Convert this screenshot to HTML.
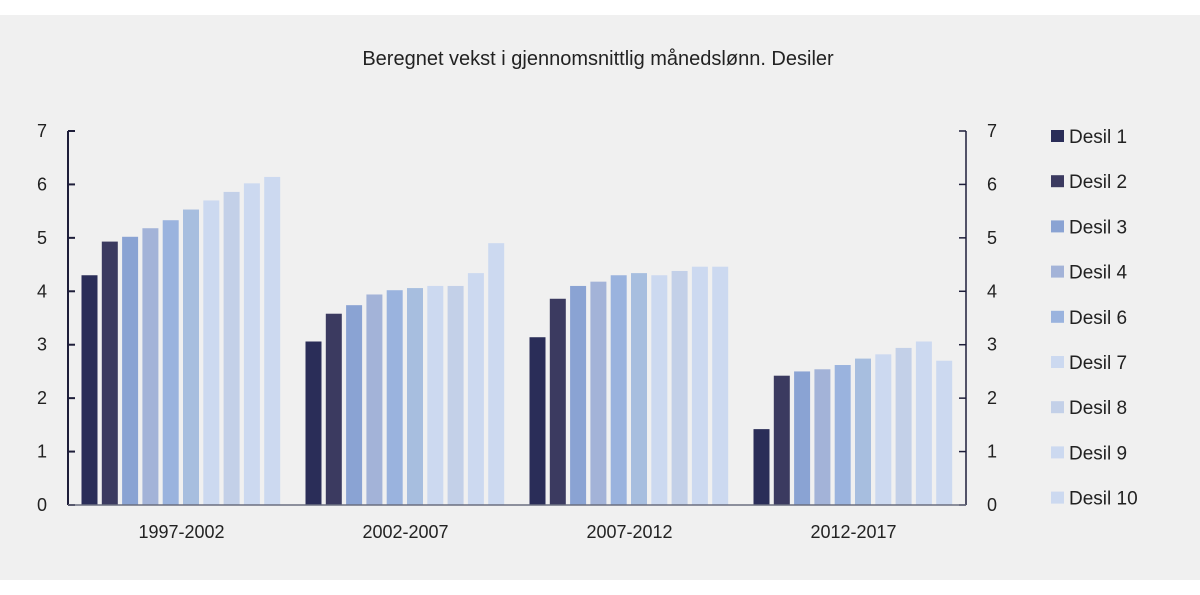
<!DOCTYPE html>
<html><head><meta charset="utf-8"><style>
body{margin:0;background:#fff;}
svg{display:block;font-family:"Liberation Sans",sans-serif;}
</style></head><body>
<svg id="c" width="1200" height="595">
<rect width="1200" height="595" fill="#ffffff"/>
<rect x="0" y="15" width="1200" height="565" fill="#f0f0f0"/>
<text x="598" y="65" text-anchor="middle" font-size="20" fill="#222">Beregnet vekst i gjennomsnittlig månedslønn. Desiler</text>
</svg>
<script>
const categories=["1997-2002","2002-2007","2007-2012","2012-2017"];
const seriesNames=["Desil 1","Desil 2","Desil 3","Desil 4","Desil 5","Desil 6","Desil 7","Desil 8","Desil 9","Desil 10"];
const g1=[4.3,4.93,5.02,5.18,5.33,5.53,5.7,5.86,6.02,6.14];
const g2=[3.06,3.58,3.74,3.94,4.02,4.06,4.1,4.1,4.34,4.9];
const g3=[3.14,3.86,4.1,4.18,4.3,4.34,4.3,4.38,4.46,4.46];
const g4=[1.42,2.42,2.5,2.54,2.62,2.74,2.82,2.94,3.06,2.7];
const yTicks=[0,1,2,3,4,5,6,7];
const legendNames=["Desil 1","Desil 2","Desil 3","Desil 4","Desil 6","Desil 7","Desil 8","Desil 9","Desil 10"];
const groups=[g1,g2,g3,g4];
const colors=["#2a2d58","#3b3a60","#8aa3d3","#a3b3d8","#9ab3de","#a7bedf","#ccd9f0","#c3d0e8","#ccd9f0","#ccd9f0"];
const legendColors=["#2a2d58","#3b3a60","#8aa3d3","#a3b3d8","#9ab3de","#ccd9f0","#c3d0e8","#ccd9f0","#ccd9f0"];
const NS="http://www.w3.org/2000/svg",svg=document.getElementById('c');
const y=v=>505-v*53.43;
const x=(g,i)=>81.5+g*224+i*20.3;
function mk(t,a,txt){const e=document.createElementNS(NS,t);for(const k in a)e.setAttribute(k,a[k]);if(txt!=null)e.textContent=txt;svg.appendChild(e);return e;}
let e=mk('line',{x1:68,y1:y(0),x2:68,y2:y(7),stroke:'#1e1e3a','stroke-width':2});


e=mk('line',{x1:966,y1:y(0),x2:966,y2:y(7),stroke:'#1e1e3a','stroke-width':1.5});


yTicks.forEach(t=>{
 e=mk('line',{x1:68,y1:y(t),x2:75,y2:y(t),stroke:'#1e1e3a','stroke-width':2});
 
 
 e=mk('line',{x1:959,y1:y(t),x2:966,y2:y(t),stroke:'#1e1e3a','stroke-width':1.5});
 
 
 e=mk('text',{x:42,y:y(t)+6,'text-anchor':'middle','font-size':18,fill:'#222'},t);
 
 
 e=mk('text',{x:992,y:y(t)+6,'text-anchor':'middle','font-size':18,fill:'#222'},t);
 
 
});
groups.forEach((vals,g)=>{
 vals.forEach((v,i)=>{
  e=mk('rect',{x:x(g,i),y:y(v),width:16,height:y(0)-y(v),fill:colors[i]});
  
  
 });
 e=mk('text',{x:x(g,0)+100,y:538,'text-anchor':'middle','font-size':18,fill:'#222'},categories[g]);
 
 
});
e=mk('line',{x1:68,y1:y(0),x2:966,y2:y(0),stroke:'#6b6f80','stroke-width':1.5});


legendNames.forEach((n,i)=>{
 const ly=136+i*45.2;
 e=mk('rect',{x:1051,y:ly-6,width:13,height:12,fill:legendColors[i]});
 
 
 e=mk('text',{x:1069,y:ly+7,'font-size':19,fill:'#222'},n);
 
 
});
</script>
</body></html>
